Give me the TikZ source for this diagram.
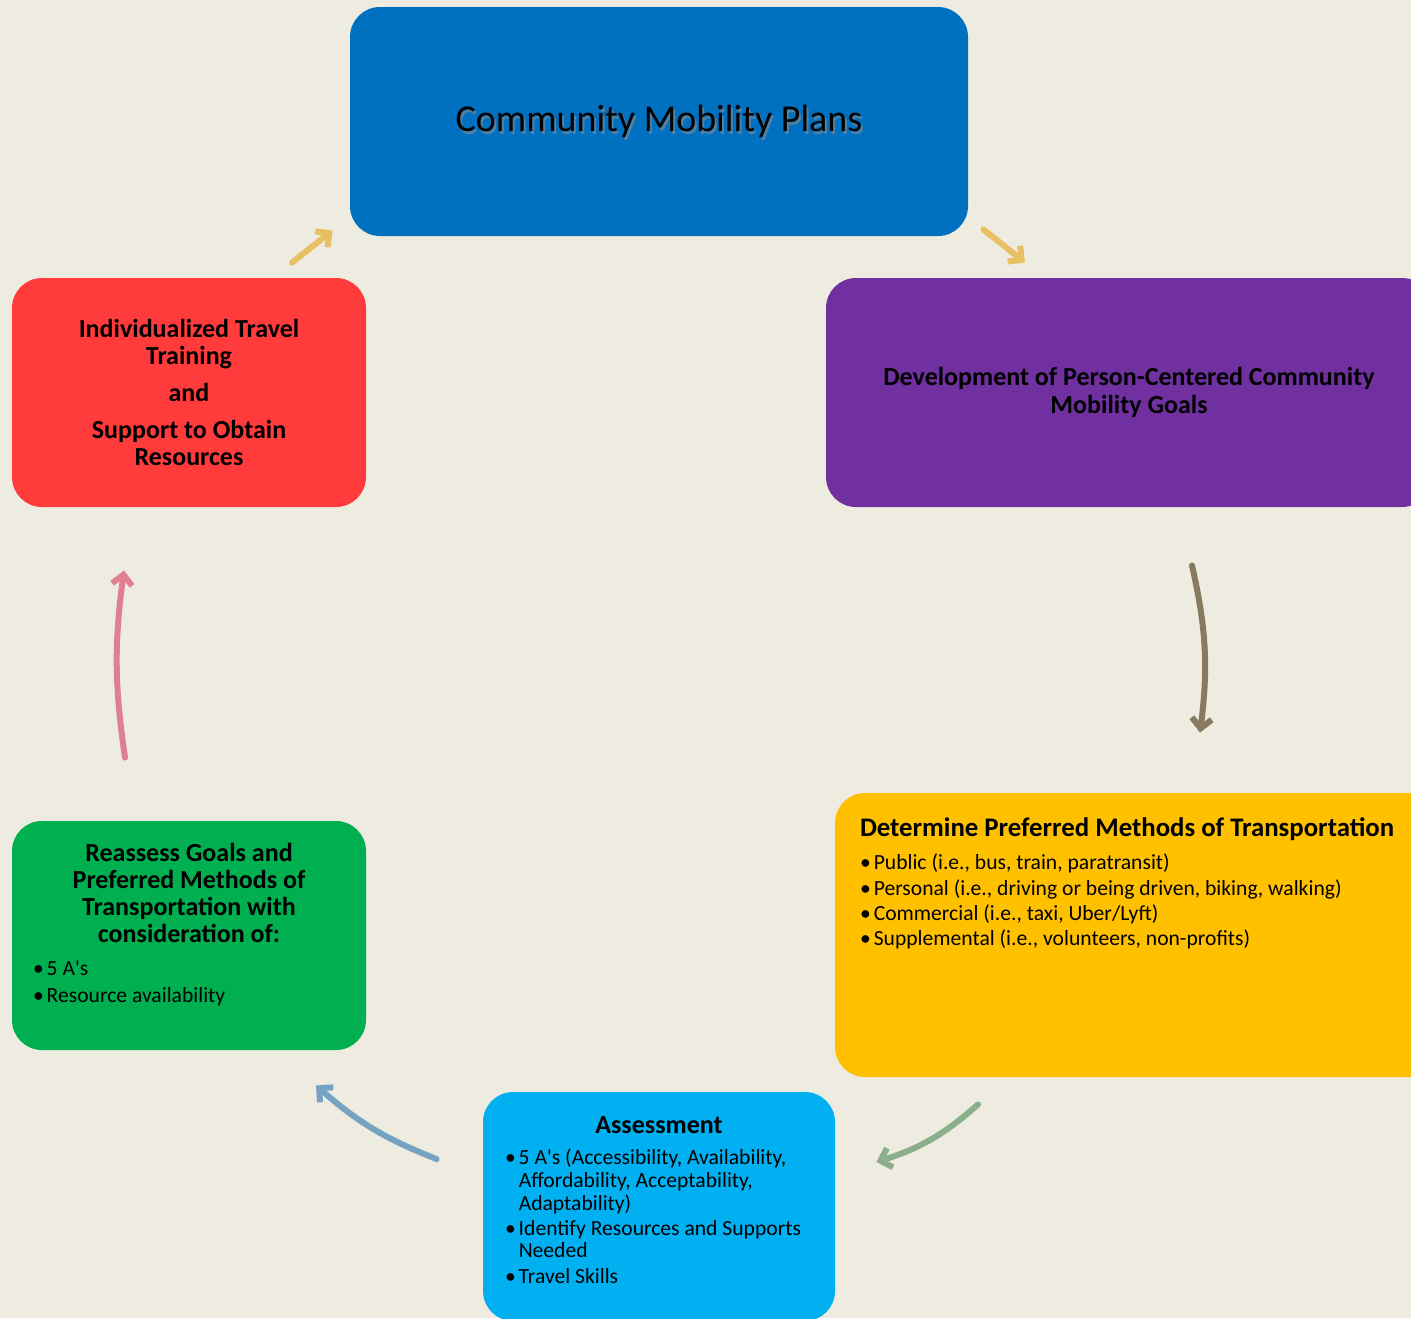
\documentclass[tikz,border=0pt]{standalone}
\usepackage{fontspec}
\setmainfont{Carlito}
\usetikzlibrary{arrows.meta, positioning, calc}
\definecolor{bgcream}{HTML}{EEECE1}
\definecolor{plansblue}{HTML}{0070C0}
\definecolor{goalspurple}{HTML}{7030A0}
\definecolor{travelred}{HTML}{FF3B3B}
\definecolor{methodsgold}{HTML}{FFC000}
\definecolor{assesscyan}{HTML}{00B0F0}
\definecolor{reassessgreen}{HTML}{00B050}
\definecolor{arrowgold}{HTML}{E8C064}
\definecolor{arrowbrown}{HTML}{877A61}
\definecolor{arrowsage}{HTML}{8BAF8A}
\definecolor{arrowsteel}{HTML}{76A3C2}
\definecolor{arrowrose}{HTML}{E07E92}

\begin{document}
\begin{tikzpicture}[
    x=1pt, y=1pt,
    card/.style={rounded corners=15pt, fill=#1, inner sep=0pt,
                 minimum width=177pt, minimum height=114.5pt},
    wide/.style={minimum width=309pt},
    headtext/.style={font=\bfseries\fontsize{13}{13.6}\selectfont, align=center},
    listtext/.style={font=\fontsize{10.8}{11.3}\selectfont, align=left, inner sep=0pt},
    arr/.style={-{Straight Barb[length=5pt, width=10pt]}, line width=3pt,
                line cap=round, color=#1}
  ]
    \fill[bgcream] (0,0) rectangle (705.5,-659);
    \useasboundingbox (0,0) rectangle (705.5,-659);
    \clip (0,0) rectangle (705.5,-659);

    % boxes
    \node[card=plansblue, wide] (plans) at (329.5,-60.75) {};
    \node[card=goalspurple, minimum width=303pt, headtext] (goals) at (564.5,-196.25)
      {Development of Person-Centered Community\\Mobility Goals};
    \node[card=travelred, headtext] (travel) at (94.5,-196.25)
      {Individualized Travel\\Training\\[5pt]and\\[5pt]Support to Obtain\\Resources};
    \node[card=methodsgold, wide, minimum height=142pt] (methods) at (572,-467.5) {};
    \node[card=assesscyan, minimum width=176pt] (assess) at (329.5,-603.25) {};
    \node[card=reassessgreen] (reassess) at (94.5,-467.75) {};

    % title with its soft shadow
    \node[font=\fontsize{19}{21}\selectfont, text=black!45, opacity=0.6]
      (plansshadow) at ([xshift=1pt, yshift=-1.2pt]plans.center) {Community Mobility Plans};
    \node[font=\fontsize{19}{21}\selectfont] (planstitle) at (plans.center) {Community Mobility Plans};

    % box texts
    \node[headtext, font=\bfseries\fontsize{13.4}{14}\selectfont, anchor=north west, inner sep=0pt]
      (methodshead) at ([xshift=12.5pt, yshift=-12.5pt]methods.north west)
      {Determine Preferred Methods of Transportation};
    \node[listtext, anchor=north west] (methodslist)
      at ([xshift=12.5pt, yshift=-30.5pt]methods.north west)
      {\begin{tabular}{@{}l@{\kern1.5pt}l@{}}
        \textbullet & Public (i.e., bus, train, paratransit)\\[1.3pt]
        \textbullet & Personal (i.e., driving or being driven, biking, walking)\\[1.3pt]
        \textbullet & Commercial (i.e., taxi, Uber/Lyft)\\[1.3pt]
        \textbullet & Supplemental (i.e., volunteers, non-profits)
      \end{tabular}};

    \node[headtext, anchor=north, inner sep=0pt] (assesshead)
      at ([yshift=-12.5pt]assess.north) {Assessment};
    \node[listtext, anchor=north west] (assesslist)
      at ([xshift=11pt, yshift=-28.5pt]assess.north west)
      {\begin{tabular}{@{}l@{\kern1.5pt}l@{}}
        \textbullet & 5 A\textquotesingle s (Accessibility, Availability,\\
                    & Affordability, Acceptability,\\
                    & Adaptability)\\[1.3pt]
        \textbullet & Identify Resources and Supports\\
                    & Needed\\[1.3pt]
        \textbullet & Travel Skills
      \end{tabular}};

    \node[headtext, anchor=north, inner sep=0pt] (reassesshead)
      at ([yshift=-11pt]reassess.north)
      {Reassess Goals and\\Preferred Methods of\\Transportation with\\consideration of:};
    \node[listtext, anchor=north west] (reassesslist)
      at ([xshift=10.5pt, yshift=-69.5pt]reassess.north west)
      {\begin{tabular}{@{}l@{\kern1.5pt}l@{}}
        \textbullet & 5 A\textquotesingle s\\[2pt]
        \textbullet & Resource availability
      \end{tabular}};

    % cycle arrows
    \draw[arr=arrowgold] ([xshift=51.5pt, yshift=7.5pt]travel.north)
      -- ([xshift=-8.5pt, yshift=3pt]plans.south west);
    \draw[arr=arrowgold] ([xshift=7.5pt, yshift=3.5pt]plans.south east)
      -- ([xshift=-52pt, yshift=7.5pt]goals.north);
    \draw[arr=arrowbrown] ([xshift=31.5pt, yshift=-29pt]goals.south)
      to[bend left=10] ([xshift=28pt, yshift=30pt]methods.north);
    \draw[arr=arrowsage] ([xshift=-83pt, yshift=-13.5pt]methods.south)
      to[bend left=12] ([xshift=20.5pt, yshift=22.25pt]assess.east);
    \draw[arr=arrowsteel] ([xshift=-23pt, yshift=23.75pt]assess.west)
      to[bend left=10] ([xshift=63.5pt, yshift=-17.5pt]reassess.south);
    \draw[arr=arrowrose] ([xshift=-32pt, yshift=31.5pt]reassess.north)
      to[bend left=8] ([xshift=-32.5pt, yshift=-31.5pt]travel.south);
  \end{tikzpicture}
\end{document}
